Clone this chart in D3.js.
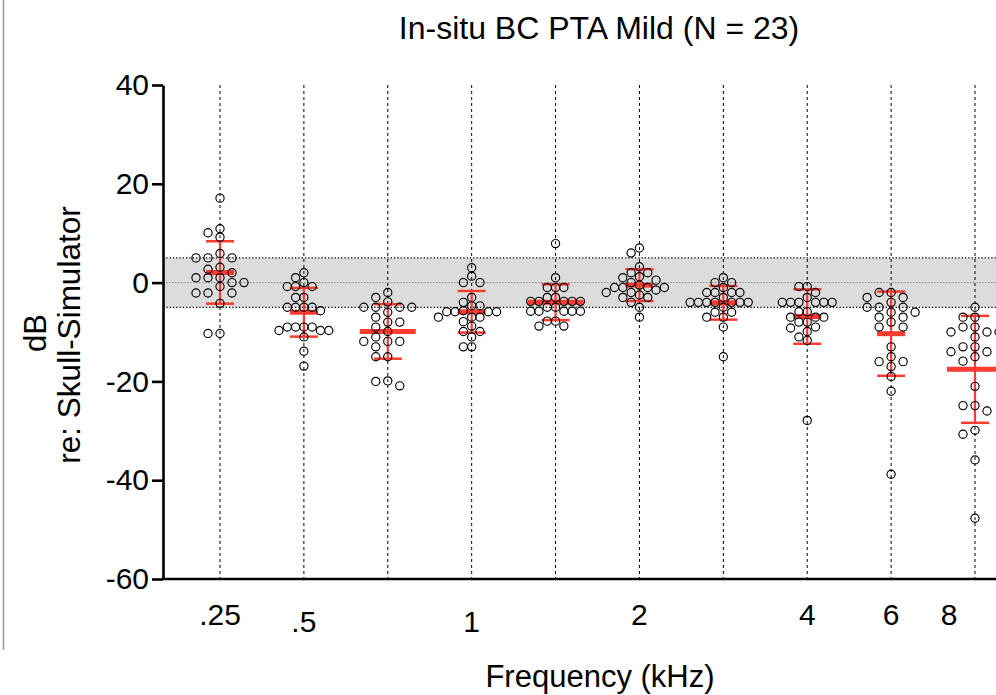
<!DOCTYPE html>
<html><head><meta charset="utf-8">
<script src="https://cdn.jsdelivr.net/npm/d3@7"></script>
<style>
body{margin:0;background:#fff;}
svg{display:block;font-family:"Liberation Sans",Arial,Helvetica,sans-serif;}
</style>
</head><body>
<svg id="chart" width="996" height="695"></svg>
<script>
// ---- data (kHz categories, dB re: Skull-Simulator) ----
const categories = ["0.25","0.5","0.75","1","1.5","2","3","4","6","8"];
const tickLabels = [".25",".5","","1","","2","","4","6","8"];
const yTicks = [40,20,0,-20,-40,-60];
const title = "In-situ BC PTA Mild (N = 23)";

const f250  = [17.1,10.9,10.1,9.2,5.9,5,5,5,3.1,2.7,2,1,1,1,0,0,-0.8,-2.1,-2.1,-2.1,-4.2,-10.3,-10.3];
const f500  = [2,1,0,-0.8,-0.8,-0.8,-3,-3,-5,-5,-5,-5,-5.7,-9,-9,-9,-9,-9.7,-9.7,-9.7,-11,-13.9,-16.9];
const f750  = [-2,-3,-3.9,-5,-5,-5,-5,-6,-7,-8,-8,-9,-9.9,-11,-11.9,-11.9,-11.9,-13,-15,-15,-19.9,-20,-20.9];
const f1000 = [3,1.3,0,0,-3,-4,-4.7,-4.7,-5.7,-5.9,-5.9,-5.9,-5.9,-7,-7,-7,-7.9,-8.8,-9.9,-9.9,-11,-13,-13];
const f1500 = [7.9,1,-1,-1,-1,-3,-3,-3.8,-3.8,-3.8,-3.8,-3.8,-5,-5,-5.8,-5.8,-5.8,-5.8,-5.8,-7.8,-7.8,-8.8,-8.8];
const f2000 = [7,6,3.2,2,2,1.2,1,0.5,0,-0.5,-1,-1,-1,-1,-1.5,-2,-2,-2.5,-3,-3,-4,-5,-7];
const f3000 = [1,0,0,-1,-2,-2,-2,-2,-3,-4,-4,-4,-4,-4,-4,-4,-5,-6,-6,-7,-7,-9,-15];
const f4000 = [-0.8,-0.8,-2,-3,-4,-4,-4,-4,-4,-4,-5.9,-5.9,-7,-7,-7,-8,-8,-9,-9.2,-9.9,-11,-11.7,-27.9];
const f6000 = [-2,-2,-3,-3,-4,-5,-5,-5,-6,-6,-7,-7,-8,-9,-9,-13,-15,-16,-16,-17,-19,-22,-38.8];
const f8000 = [-5,-7,-7,-9,-9,-10,-10,-10,-11,-13,-13,-14,-14,-15,-15.9,-21,-24.9,-24.9,-26,-29.9,-30.7,-35.9,-47.7];
const series = [f250,f500,f750,f1000,f1500,f2000,f3000,f4000,f6000,f8000];

// ---- layout / style ----
const W = 996, H = 695;
const axisX = 163;
const red = "#ff3b30";
const dotGap = [12,8.3,12,8.3,8.3,8.3,8.3,8.3,12,12];
const meanHalf = [14,14,28,14,28,14,14,14,14,28];

const svg = d3.select("#chart");
const x = d3.scalePoint().domain(categories).range([220, 975]);
const y = d3.scaleLinear().domain([-60, 40]).range([579, 85]);

// left frame line
svg.append("line").attr("x1",3.5).attr("x2",3.5).attr("y1",0).attr("y2",650)
  .attr("stroke","#9a9a9a").attr("stroke-width",1.5);

// grey reference band
svg.append("rect").attr("x",axisX).attr("y",y(5)).attr("width",W-axisX)
  .attr("height",y(-5)-y(5)).attr("fill","#dcdcdc");
[5,-5].forEach(v=>svg.append("line").attr("x1",axisX).attr("x2",W)
  .attr("y1",y(v)).attr("y2",y(v)).attr("stroke","#000").attr("stroke-width",1.3)
  .attr("stroke-dasharray","1.3,2"));
svg.append("line").attr("x1",axisX).attr("x2",W).attr("y1",y(0)).attr("y2",y(0))
  .attr("stroke","#888").attr("stroke-width",1).attr("stroke-dasharray","1.5,1.5");

// vertical dashed lines
svg.append("g").selectAll("line").data(categories).join("line")
  .attr("x1",d=>x(d)).attr("x2",d=>x(d)).attr("y1",y(40)).attr("y2",y(-60))
  .attr("stroke","#000").attr("stroke-width",1).attr("stroke-dasharray","3,3");

// stats
const stats = series.map(s=>({mean:d3.mean(s), sd:d3.deviation(s)}));

// error bars
const eb = svg.append("g");
categories.forEach((c,i)=>{
  const cx = x(c), m = stats[i].mean, sd = stats[i].sd;
  eb.append("line").attr("x1",cx).attr("x2",cx).attr("y1",y(m+sd)).attr("y2",y(m-sd))
    .attr("stroke",red).attr("stroke-width",2.2);
  [m+sd, m-sd].forEach(v=>eb.append("line").attr("x1",cx-14).attr("x2",cx+14)
    .attr("y1",y(v)).attr("y2",y(v)).attr("stroke",red).attr("stroke-width",2.5));
  eb.append("line").attr("x1",cx-meanHalf[i]).attr("x2",cx+meanHalf[i])
    .attr("y1",y(m)).attr("y2",y(m)).attr("stroke",red).attr("stroke-width",5);
});

// swarm layout
function swarm(vals, gap, vgap){
  const pts = vals.map(v=>({v, py:y(v)})).sort((a,b)=>a.py-b.py);
  const placed = [];
  pts.forEach(p=>{
    const near = placed.filter(q=>Math.abs(q.py-p.py) < vgap);
    const cands = [0];
    near.forEach(q=>{cands.push(q.dx+gap, q.dx-gap);});
    cands.sort((a,b)=>Math.abs(a)-Math.abs(b) || a-b);
    for (const c of cands){
      if (near.every(q=>Math.abs(q.dx-c) >= gap-0.01)){ p.dx=c; break; }
    }
    placed.push(p);
  });
  return placed;
}

const dots = svg.append("g");
categories.forEach((c,i)=>{
  const pts = swarm(series[i], dotGap[i], 8.3);
  dots.selectAll(null).data(pts).join("circle")
    .attr("cx",d=>x(c)+d.dx).attr("cy",d=>d.py).attr("r",4.1)
    .attr("fill","none").attr("stroke","#000").attr("stroke-width",1.15);
});

// y axis
const yAxis = svg.append("g").attr("transform",`translate(${axisX},0)`)
  .call(d3.axisLeft(y).tickValues(yTicks).tickFormat(d=>String(d))
    .tickSize(11).tickSizeOuter(0).tickPadding(3));
yAxis.select(".domain").attr("stroke","#000").attr("stroke-width",2.6);
yAxis.selectAll(".tick line").attr("stroke","#000").attr("stroke-width",2.6);
yAxis.selectAll(".tick text").attr("font-size",30).attr("fill","#000")
  .attr("font-family","'Liberation Sans',Arial,sans-serif");

// x axis line
svg.append("line").attr("x1",axisX-1.3).attr("x2",W).attr("y1",y(-60)).attr("y2",y(-60))
  .attr("stroke","#000").attr("stroke-width",2.6);

// x tick labels
const labelDx = {"8":-26};
const labelDy = {".5":7,"1":7};
svg.append("g").selectAll("text").data(categories).join("text")
  .attr("x",(d,i)=>x(d)+(labelDx[tickLabels[i]]||0))
  .attr("y",(d,i)=>625+(labelDy[tickLabels[i]]||0))
  .attr("text-anchor","middle").attr("font-size",30).attr("fill","#000")
  .text((d,i)=>tickLabels[i]);

// titles
svg.append("text").attr("x",599).attr("y",39).attr("text-anchor","middle")
  .attr("font-size",32).text(title);
svg.append("text").attr("x",600).attr("y",687).attr("text-anchor","middle")
  .attr("font-size",31).text("Frequency (kHz)");
svg.append("text").attr("transform","translate(46,333) rotate(-90)")
  .attr("text-anchor","middle").attr("font-size",31).text("dB");
svg.append("text").attr("transform","translate(80,335) rotate(-90)")
  .attr("text-anchor","middle").attr("font-size",31.5).text("re: Skull-Simulator");
</script>
</body></html>
